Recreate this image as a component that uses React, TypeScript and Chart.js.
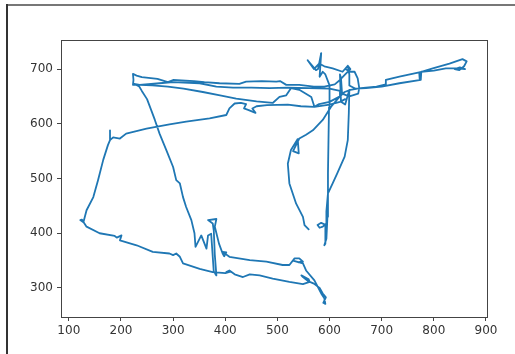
import React, { useEffect, useRef } from "react";
import { Chart, registerables } from "chart.js";

Chart.register(...registerables);

// Trajectory (data units)
const pathX: number[] = [
  560, 552, 549, 536, 523, 520, 526, 539, 541, 530, 542, 555, 568, 587, 603, 619, 629,
  640, 660, 690, 708, 708, 734, 772, 773, 773, 798, 830, 855, 863, 858, 849, 840, 850, 860, 845, 823, 800, 776, 775, 734, 700, 670, 650,
  638, 638, 635, 630, 640, 648, 654, 657, 655, 638, 624, 622, 620, 622, 630,
  638, 637, 635, 629, 615, 606, 597, 594, 594, 587, 581, 577, 584, 593, 592, 590, 594, 596, 597, 598, 599, 600,
  600, 592, 587, 581, 584, 578, 574, 558, 570, 580, 590, 606, 625, 635, 640, 630, 620, 610, 590, 570,
  542, 517, 505, 498, 470, 440, 427, 389, 360, 340, 300, 290, 270, 240, 230, 223, 224, 223,
  236, 274, 300, 351, 383, 415, 450, 485, 520, 560, 600, 620,
  620, 600, 580, 571, 565, 542, 526, 517, 504, 491, 460, 421, 390, 357, 320, 290, 260, 236, 225,
  235, 240, 250, 258, 265, 274, 287, 300, 306, 313, 319, 325, 335, 341, 343, 354, 364, 367, 373, 378, 383, 380, 378, 376, 367, 383, 380, 388, 395, 398, 402, 395, 408, 447, 479, 510, 523, 533, 542, 549, 540, 530, 549, 555, 571, 584, 590, 592, 588, 593, 587,
  581, 570, 560, 549, 546, 560, 562, 549, 523, 491, 466, 447, 434, 418, 408, 402, 410, 400, 376, 351, 319, 313, 306, 300, 293, 261, 230, 198, 201, 192, 188, 159, 134, 125, 122, 128, 134, 147, 156, 166, 175, 179, 179, 179, 185, 198, 210, 249, 293, 325, 370, 402, 408, 418, 430, 440, 436, 445, 458, 452, 460, 480, 520, 545, 571, 600, 620, 630,
];
const pathY: number[] = [
  407, 415, 430, 454, 491, 527, 552, 572, 546, 550, 573, 580, 588, 607, 631, 649, 658,
  662, 665, 668, 672, 680, 686, 694, 680, 694, 701, 710, 718, 714, 705, 698, 700, 703, 700, 701, 701, 697, 695, 680, 674, 668, 665, 664,
  670, 690, 706, 700, 695, 695, 683, 665, 655, 650, 655, 683, 690, 640, 635,
  662, 620, 570, 540, 510, 491, 473, 440, 418, 412, 410, 415, 419, 415, 381, 378, 390, 430, 509, 570, 630, 662,
  670, 690, 695, 686, 729, 700, 698, 716, 700, 710, 705, 701, 695, 706, 700, 690, 680, 672, 668, 668,
  671, 671, 678, 677, 678, 677, 673, 674, 676, 678, 680, 676, 682, 685, 688, 691, 680, 671,
  671, 674, 676, 674, 668, 666, 666, 665, 666, 665, 664, 660,
  650, 640, 636, 631, 649, 662, 665, 652, 649, 638, 641, 646, 652, 658, 664, 668, 670, 671, 673,
  668, 660, 645, 625, 607, 582, 552, 521, 497, 491, 466, 448, 424, 400, 375, 396, 372, 396, 399, 330, 323, 360, 405, 418, 424, 426, 412, 381, 363, 358, 365, 366, 357, 351, 348, 342, 342, 354, 354, 348, 347, 350, 345, 332, 314, 290, 281, 271, 273, 283, 290,
  300, 308, 312, 320, 323, 316, 311, 307, 311, 317, 323, 325, 320, 325, 332, 329, 330, 327, 329, 335, 345, 357, 363, 360, 363, 366, 378, 387, 396, 392, 395, 400, 412, 425, 424, 420, 442, 466, 497, 534, 561, 570, 588, 570, 575, 573, 582, 591, 599, 604, 610, 616, 628, 637, 638, 636, 628, 625, 620, 628, 632, 634, 635, 632, 631, 635, 640, 645,
];

const xTicks = [100, 200, 300, 400, 500, 600, 700, 800, 900];
const yTicks = [300, 400, 500, 600, 700];

export default function App() {
  const ref = useRef<HTMLCanvasElement | null>(null);

  useEffect(() => {
    if (!ref.current) return;
    const pts = pathX.map((x, i) => ({ x, y: pathY[i] }));
    const framePlugin = {
      id: "frame",
      afterDatasetsDraw(chart: any) {
        const { ctx, chartArea } = chart;
        ctx.save();
        ctx.strokeStyle = "#444";
        ctx.lineWidth = 1;
        ctx.strokeRect(
          Math.round(chartArea.left) + 0.5,
          Math.round(chartArea.top) + 0.5,
          Math.round(chartArea.right - chartArea.left),
          Math.round(chartArea.bottom - chartArea.top)
        );
        ctx.restore();
      },
    };
    const chart = new Chart(ref.current, {
      type: "scatter",
      data: {
        datasets: [
          {
            data: pts,
            showLine: true,
            borderColor: "#1f77b4",
            backgroundColor: "#1f77b4",
            borderWidth: 1.8,
            pointRadius: 0,
            tension: 0,
            borderJoinStyle: "round",
            borderCapStyle: "round",
          } as any,
        ],
      },
      options: {
        animation: false,
        responsive: false,
        maintainAspectRatio: false,
        layout: { padding: { left: 0, top: 40, right: 28, bottom: 0 } },
        plugins: { legend: { display: false }, tooltip: { enabled: false } },
        scales: {
          x: {
            type: "linear",
            min: 85,
            max: 902,
            afterBuildTicks: (s: any) => {
              s.ticks = xTicks.map((v) => ({ value: v }));
            },
            afterFit: (s: any) => {
              s.height = 37;
            },
            grid: {
              display: true,
              drawOnChartArea: false,
              drawTicks: true,
              tickLength: 4,
              tickColor: "#444",
            },
            border: { display: false },
            ticks: {
              color: "#333",
              padding: 3,
              maxRotation: 0,
              font: { family: "DejaVu Sans", size: 12 },
            },
          },
          y: {
            type: "linear",
            min: 247,
            max: 753,
            afterBuildTicks: (s: any) => {
              s.ticks = yTicks.map((v) => ({ value: v }));
            },
            afterFit: (s: any) => {
              s.width = 61;
            },
            grid: {
              display: true,
              drawOnChartArea: false,
              drawTicks: true,
              tickLength: 4,
              tickColor: "#444",
            },
            border: { display: false },
            ticks: {
              color: "#333",
              padding: 4,
              font: { family: "DejaVu Sans", size: 12 },
            },
          },
        },
      },
      plugins: [framePlugin],
    });
    return () => chart.destroy();
  }, []);

  return (
    <div
      style={{
        position: "absolute",
        left: 0,
        top: 0,
        width: 515,
        height: 354,
        background: "#fff",
        overflow: "hidden",
      }}
    >
      <canvas
        ref={ref}
        width={515}
        height={354}
        style={{ position: "absolute", left: 0, top: 0, width: 515, height: 354 }}
      />
      <div style={{ position: "absolute", left: 6, top: 4, width: 509, height: 2, background: "#777" }} />
      <div style={{ position: "absolute", left: 6, top: 4, width: 2, height: 350, background: "#333" }} />
    </div>
  );
}
